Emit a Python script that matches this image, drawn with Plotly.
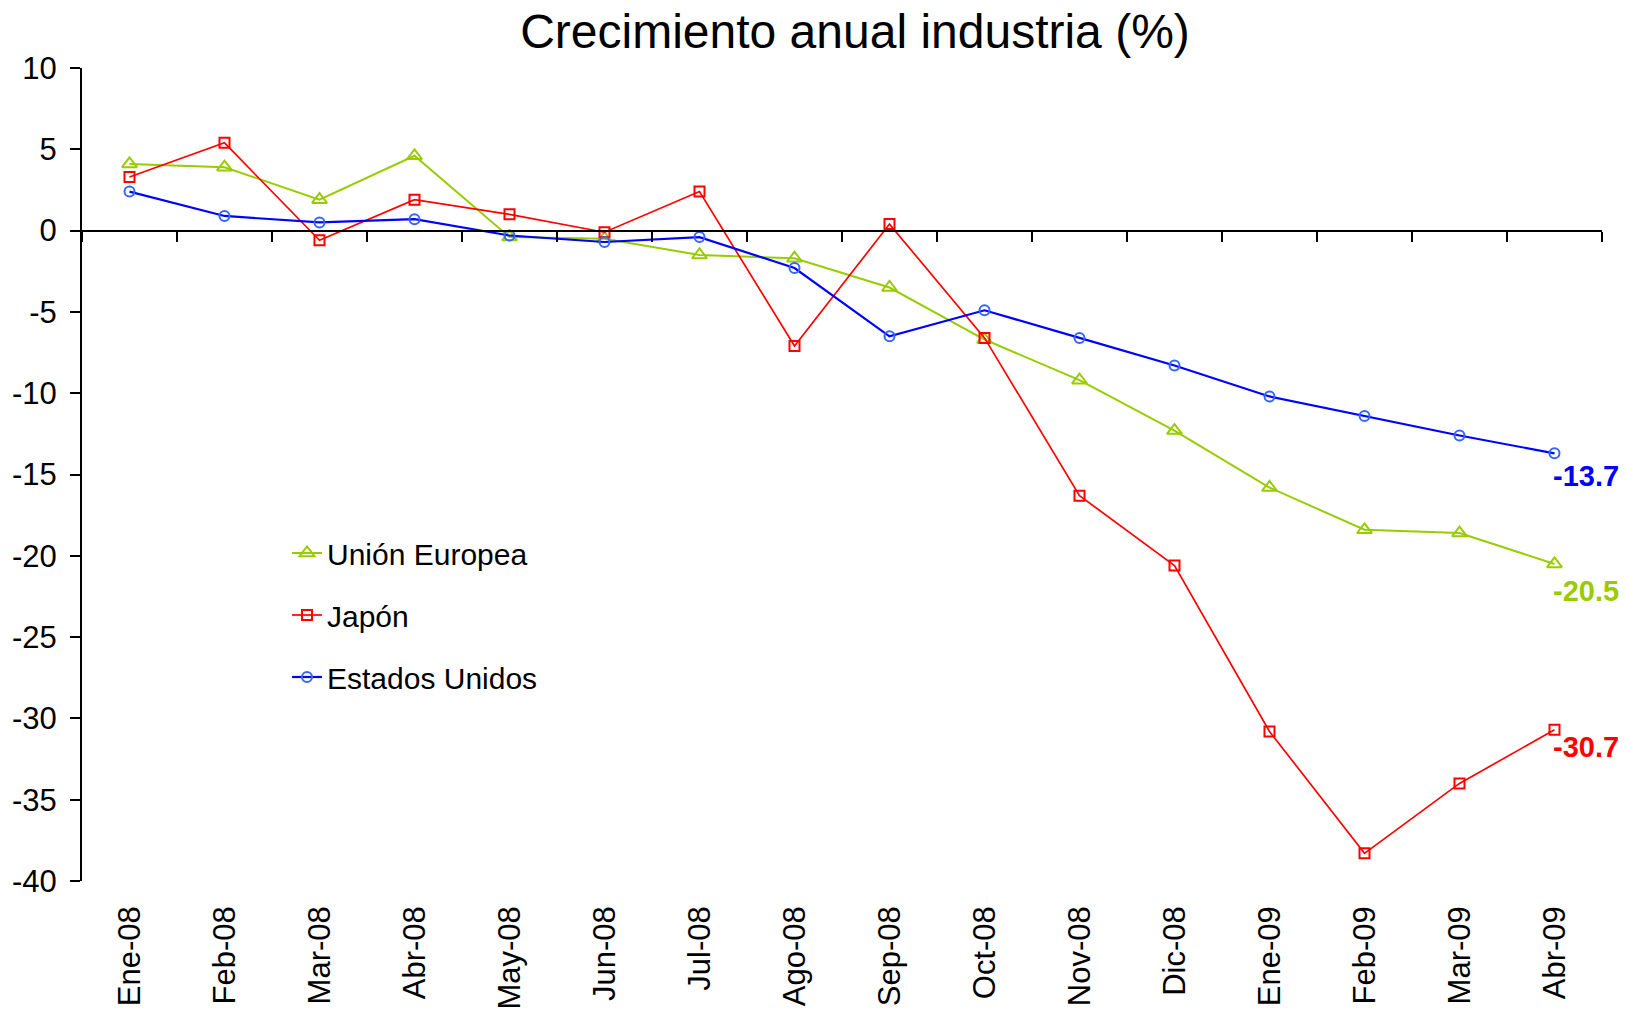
import plotly.graph_objects as go

months = ["Ene-08", "Feb-08", "Mar-08", "Abr-08", "May-08", "Jun-08", "Jul-08", "Ago-08",
          "Sep-08", "Oct-08", "Nov-08", "Dic-08", "Ene-09", "Feb-09", "Mar-09", "Abr-09"]

union_europea = [4.1, 3.9, 1.9, 4.6, -0.4, -0.5, -1.5, -1.7, -3.5, -6.7, -9.2, -12.3, -15.8, -18.4, -18.6, -20.5]
japon = [3.3, 5.4, -0.6, 1.9, 1.0, -0.1, 2.4, -7.1, 0.4, -6.6, -16.3, -20.6, -30.8, -38.3, -34.0, -30.7]
estados_unidos = [2.4, 0.9, 0.5, 0.7, -0.3, -0.7, -0.4, -2.3, -6.5, -4.9, -6.6, -8.3, -10.2, -11.4, -12.6, -13.7]

y_ticks = [10, 5, 0, -5, -10, -15, -20, -25, -30, -35, -40]
y_ticktext = ["10", "5", "0", "-5", "-10", "-15", "-20", "-25", "-30", "-35", "-40"]

FONT = "Liberation Sans, Arial, sans-serif"
GREEN = "#99CC00"
RED = "#FF0000"
BLUE = "#0000FF"
BLUE_MK = "#3366FF"

fig = go.Figure()

fig.add_trace(go.Scatter(
    x=months, y=union_europea, name="Unión Europea", mode="lines+markers",
    line=dict(color=GREEN, width=2),
    marker=dict(symbol="triangle-up-open", size=13, color=GREEN, line=dict(width=2)),
    legendgroup="ue", xaxis="x", yaxis="y"))
fig.add_trace(go.Scatter(
    x=months, y=japon, name="Japón", mode="lines+markers",
    line=dict(color=RED, width=1.7),
    marker=dict(symbol="square-open", size=10, color=RED, line=dict(width=2)),
    legendgroup="jp", xaxis="x", yaxis="y"))
fig.add_trace(go.Scatter(
    x=months, y=estados_unidos, name="Estados Unidos", mode="lines+markers",
    line=dict(color=BLUE, width=2.2),
    marker=dict(symbol="circle-open", size=10, color=BLUE_MK, line=dict(width=2)),
    legendgroup="us", xaxis="x2", yaxis="y"))

# end-of-series value labels
for vals, col, dy in [(estados_unidos, BLUE, -23), (union_europea, GREEN, -27), (japon, RED, -17)]:
    fig.add_annotation(x=months[-1], y=vals[-1], xref="x", yref="y",
                       text=f"{vals[-1]:.1f}", showarrow=False,
                       xanchor="left", yanchor="middle", xshift=-4, yshift=dy,
                       font=dict(family=FONT, size=29, color=col, weight="bold"))

fig.update_layout(
    width=1628, height=1011,
    margin=dict(l=82, r=26, t=68, b=130, autoexpand=False),
    paper_bgcolor="white", plot_bgcolor="white",
    font=dict(family=FONT, color="black"),
    title=dict(text="Crecimiento anual industria (%)", x=855 / 1628, xanchor="center",
               xref="container", y=1 - 31 / 1011, yanchor="middle", yref="container",
               font=dict(family=FONT, size=48, color="black")),
    showlegend=True,
    legend=dict(x=(287 - 82) / 1520, y=(881 - 527) / 813, xanchor="left", yanchor="top",
                bgcolor="rgba(0,0,0,0)", font=dict(family=FONT, size=30, color="black"),
                tracegroupgap=20, traceorder="grouped"),
    xaxis=dict(type="category", categoryorder="array", categoryarray=months,
               range=[-0.5, len(months) - 0.5], showline=False, ticks="",
               showgrid=False, zeroline=False, tickangle=-90, automargin=False,
               tickfont=dict(family=FONT, size=31, color="black"),
               ticklabelstandoff=18),
    xaxis2=dict(type="category", categoryorder="array", categoryarray=months,
                range=[-0.5, len(months) - 0.5], overlaying="x", anchor="free",
                position=(0 - (-40)) / 50, side="bottom", automargin=False,
                showline=True, linecolor="black", linewidth=2,
                ticks="outside", tickson="boundaries", ticklen=10, tickwidth=2,
                tickcolor="black", showticklabels=False, showgrid=False, zeroline=False),
    yaxis=dict(range=[-40, 10], tickvals=y_ticks, ticktext=y_ticktext, ticks="outside",
               ticklen=10, tickwidth=2, tickcolor="black", showline=True, linecolor="black",
               linewidth=2, showgrid=False, zeroline=False, automargin=False,
               tickfont=dict(family=FONT, size=31, color="black"),
               ticklabelstandoff=7),
)

fig.write_html("out.html", config={"displayModeBar": False},
               post_script="document.body.style.margin='0';document.body.style.overflow='hidden';")
